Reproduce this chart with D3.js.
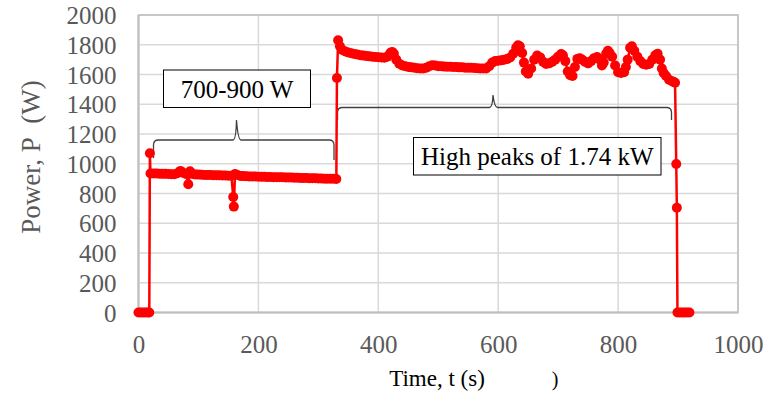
<!DOCTYPE html>
<html>
<head>
<meta charset="utf-8">
<script src="https://cdn.jsdelivr.net/npm/d3@7/dist/d3.min.js"></script>
<style>
  body { margin: 0; background: #fff; }
  svg { display: block; }
  svg text { font-family: "Liberation Serif", "Times New Roman", serif !important; }
</style>
</head>
<body>
<svg id="chart" width="767" height="394"></svg>
<script>
// Power trace, [time (s), power (W)]
const idleStart = [[0,0],[4,0],[8,0],[12,0],[16,0],[18,0]];
const switchOn = [[19,1070]];
const lowPhase = [
  [20,935],[25,934],[30,934],[35,933],[40,932],[45,932],[50,931],[55,930],[60,930],
  [65,936],[70,952],[75,938],[80,929],[83,862],[86,949],[90,931],[95,928],[100,927],
  [105,926],[110,925],[115,925],[120,924],[125,923],[130,923],[135,922],[140,921],
  [145,921],[150,920],[155,920],[158,776],[159,712],[161,931],[165,924],[170,918],
  [175,917],[180,916],[185,915],[190,915],[195,914],[200,913],[205,913],[210,912],
  [215,911],[220,911],[225,910],[230,910],[235,909],[240,909],[245,908],[250,907],
  [255,907],[260,906],[265,906],[270,905],[275,904],[280,904],[285,903],[290,902],
  [295,902],[300,901],[305,901],[310,900],[315,900],[320,899],[325,899],[330,898]
];
const highPhase = [
  [331,1576],[333,1830],[336,1790],[340,1765],[345,1755],[350,1748],[355,1743],
  [360,1738],[365,1735],[370,1730],[375,1727],[380,1724],[385,1722],[390,1720],
  [395,1718],[400,1716],[405,1714],[410,1713],[415,1720],[420,1745],[423,1752],
  [426,1740],[430,1700],[435,1672],[440,1660],[445,1655],[450,1650],[455,1648],
  [460,1645],[465,1642],[470,1640],[475,1640],[480,1645],[485,1655],[490,1662],
  [495,1660],[500,1655],[505,1655],[510,1653],[515,1652],[520,1652],[525,1650],
  [530,1650],[535,1648],[540,1648],[545,1646],[550,1645],[555,1645],[560,1644],
  [565,1642],[570,1640],[575,1640],[580,1640],[585,1655],[590,1680],[595,1690],
  [600,1692],[605,1695],[610,1700],[615,1705],[620,1715],[625,1740],[630,1780],
  [633,1797],[636,1790],[640,1745],[643,1680],[646,1620],[650,1605],[655,1640],
  [660,1700],[665,1728],[670,1715],[675,1685],[680,1670],[685,1675],[690,1685],
  [695,1700],[700,1720],[705,1738],[708,1730],[712,1690],[716,1620],[720,1595],
  [724,1590],[728,1650],[732,1705],[736,1710],[740,1700],[745,1685],[750,1675],
  [755,1690],[760,1710],[765,1718],[770,1700],[773,1660],[776,1680],[780,1740],
  [783,1760],[786,1745],[790,1720],[795,1660],[800,1615],[805,1610],[810,1615],
  [813,1650],[816,1700],[820,1780],[823,1790],[827,1760],[832,1720],[837,1690],
  [842,1670],[847,1665],[852,1670],[857,1700],[862,1730],[866,1740],[870,1700],
  [873,1640],[876,1610],[880,1590],[885,1565],[890,1555],[893,1550],[895,1545]
];
const switchOff = [[897,998],[898,704]];
const idleEnd = [[899,0],[903,0],[907,0],[911,0],[915,0],[919,0]];

const xTicks = [0, 200, 400, 600, 800, 1000];
const yTicks = [0, 200, 400, 600, 800, 1000, 1200, 1400, 1600, 1800, 2000];

const xTitle = "Time, t (s)";
const yTitle = "Power, P\u00a0\u00a0(W)";
const lowNote = "700-900 W";
const highNote = "High peaks of 1.74 kW";

const series = [].concat(idleStart, switchOn, lowPhase, highPhase, switchOff, idleEnd);

const svg = d3.select("#chart");
const serif = "'Liberation Serif', 'Times New Roman', serif";
const plotLeft = 138.5, plotRight = 738, plotTop = 15, plotBottom = 312.5;

const x = d3.scaleLinear().domain([0, 1000]).range([plotLeft, plotRight]);
const y = d3.scaleLinear().domain([0, 2000]).range([plotBottom, plotTop]);

// grid
const grid = svg.append("g");
grid.selectAll("line.h").data(yTicks).join("line")
  .attr("x1", plotLeft).attr("x2", plotRight)
  .attr("y1", d => y(d)).attr("y2", d => y(d))
  .attr("stroke", "#d9d9d9").attr("stroke-width", 1.5);
grid.selectAll("line.v").data(xTicks).join("line")
  .attr("y1", plotTop).attr("y2", plotBottom)
  .attr("x1", d => x(d)).attr("x2", d => x(d))
  .attr("stroke", "#d9d9d9").attr("stroke-width", 1.5);

// plot frame
svg.append("rect")
  .attr("x", plotLeft).attr("y", plotTop)
  .attr("width", plotRight - plotLeft).attr("height", plotBottom - plotTop)
  .attr("fill", "none").attr("stroke", "#bfbfbf").attr("stroke-width", 1.5);
svg.append("line").attr("x1", plotLeft).attr("x2", plotLeft).attr("y1", plotTop).attr("y2", plotBottom)
  .attr("stroke", "#bfbfbf").attr("stroke-width", 2);
svg.append("line").attr("x1", plotLeft).attr("x2", plotRight).attr("y1", plotBottom).attr("y2", plotBottom)
  .attr("stroke", "#bfbfbf").attr("stroke-width", 2);

// axes (labels only)
const yAxis = svg.append("g").attr("transform", `translate(${plotLeft - 22},0)`)
  .call(d3.axisLeft(y).tickValues(yTicks).tickSize(0).tickPadding(0).tickFormat(d3.format("d")));
yAxis.attr("font-family", serif).attr("font-size", 25);
yAxis.select(".domain").remove();
yAxis.selectAll("text").style("font-family", serif).style("font-size", "25px")
  .attr("fill", "#595959").attr("dy", "0.34em");

const xAxis = svg.append("g").attr("transform", `translate(0,${plotBottom + 22})`)
  .call(d3.axisBottom(x).tickValues(xTicks).tickSize(0).tickPadding(0).tickFormat(d3.format("d")));
xAxis.attr("font-family", serif).attr("font-size", 25);
xAxis.select(".domain").remove();
xAxis.selectAll("text").style("font-family", serif).style("font-size", "25px")
  .attr("fill", "#595959").attr("dy", "0.72em");

// titles
svg.append("text")
  .attr("transform", `translate(40,157) rotate(-90)`)
  .attr("text-anchor", "middle")
  .style("font-size", "27px").attr("fill", "#595959")
  .text(yTitle);
svg.append("text")
  .attr("x", 437).attr("y", 386)
  .attr("text-anchor", "middle")
  .style("font-size", "23px").attr("fill", "#000")
  .text(xTitle);
svg.append("text")
  .attr("x", 555).attr("y", 386)
  .attr("text-anchor", "middle")
  .style("font-size", "20px").attr("fill", "#000")
  .text(")");

// braces
function brace(x0, x1, xm, yBar, yLeg0, yLeg1, yTip) {
  const r = 5;
  return `M${x0},${yLeg0} L${x0},${yBar + r} Q${x0},${yBar} ${x0 + r},${yBar}` +
         ` L${xm - 4},${yBar} Q${xm - 1},${yBar} ${xm - 0.5},${yTip}` +
         ` Q${xm + 1},${yBar} ${xm + 4},${yBar}` +
         ` L${x1 - r},${yBar} Q${x1},${yBar} ${x1},${yBar + r} L${x1},${yLeg1}`;
}
svg.append("path")
  .attr("d", brace(153.5, 334, 237, 140, 158, 160, 120))
  .attr("fill", "none").attr("stroke", "#404040").attr("stroke-width", 1.3);
svg.append("path")
  .attr("d", brace(337.5, 671.5, 493.5, 107.5, 120, 120, 95))
  .attr("fill", "none").attr("stroke", "#404040").attr("stroke-width", 1.3);

// series line and markers
const line = d3.line().x(d => x(d[0])).y(d => y(d[1]));
svg.append("path").datum(series)
  .attr("d", line)
  .attr("fill", "none").attr("stroke", "#ff0000").attr("stroke-width", 2.5);
svg.append("g").selectAll("circle").data(series).join("circle")
  .attr("cx", d => x(d[0])).attr("cy", d => y(d[1]))
  .attr("r", 5).attr("fill", "#ff0000");

// annotation boxes
function note(x0, y0, w, h, label) {
  svg.append("rect").attr("x", x0).attr("y", y0).attr("width", w).attr("height", h)
    .attr("fill", "#fff").attr("stroke", "#000").attr("stroke-width", 1);
  svg.append("text").attr("x", x0 + w / 2).attr("y", y0 + h / 2)
    .attr("dy", "0.35em").attr("text-anchor", "middle")
    .style("font-size", "25px").attr("fill", "#000").text(label);
}
note(163.5, 70, 147, 37.5, lowNote);
note(413.5, 137.5, 247.5, 37.5, highNote);
</script>
</body>
</html>
